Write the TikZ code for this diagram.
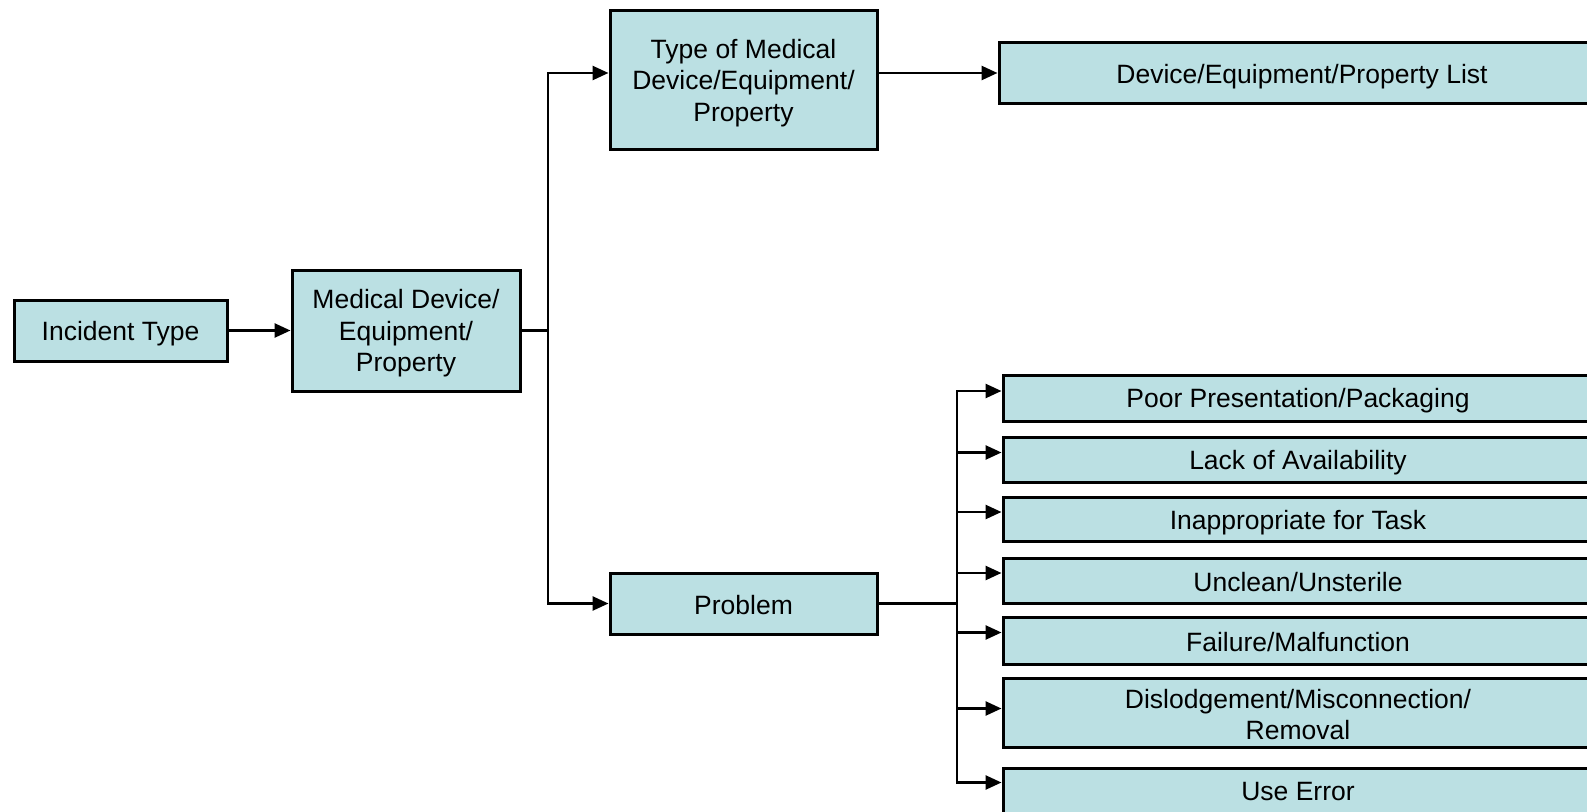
\documentclass[tikz,border=0pt]{standalone}
\usepackage{fontspec}
\setmainfont{Liberation Sans}
\usetikzlibrary{arrows.meta}
\definecolor{boxfill}{RGB}{187,224,227}
\tikzset{
  box/.style={draw=black, line width=3pt, fill=boxfill, inner sep=0pt},
  txt/.style={align=center, inner sep=0pt, font=\fontsize{26.5}{31.4}\selectfont},
  conn/.style={draw=black, line width=2.6pt},
  arr/.style={conn, -{Triangle[length=16pt,width=14pt]}}
}
\begin{document}
\begin{tikzpicture}[x=1pt,y=-1pt]
\useasboundingbox (0,0) rectangle (1587,811);
\clip (0,0) rectangle (1587,811);
\fill[white] (0,0) rectangle (1587,811);
\node[box, minimum width=213pt, minimum height=61pt,
  label={[txt,yshift=-3pt]center:{Incident Type}}] (inc) at (120.5,330.5) {};
\node[box, minimum width=228pt, minimum height=121pt,
  label={[txt,yshift=-3pt]center:{Medical Device/\\Equipment/\\Property}}] (md) at (406,330.5) {};
\node[box, minimum width=267pt, minimum height=139pt,
  label={[txt,yshift=-3.5pt]center:{Type of Medical\\Device/Equipment/\\Property}}] (type) at (743.5,79.5) {};
\node[box, minimum width=606pt, minimum height=60.5pt,
  label={[txt,yshift=-3.5pt]center:{Device/Equipment/Property List}}] (list) at (1302,72.75) {};
\node[box, minimum width=267pt, minimum height=61pt,
  label={[txt,yshift=-1.5pt]center:{Problem}}] (prob) at (743.5,603.5) {};
\node[box, minimum width=590pt, minimum height=46pt,
  label={[txt,yshift=-2.5pt]center:{Poor Presentation/Packaging}}] (b1) at (1298,398) {};
\node[box, minimum width=590pt, minimum height=45pt,
  label={[txt,yshift=-3.5pt]center:{Lack of Availability}}] (b2) at (1298,459.5) {};
\node[box, minimum width=590pt, minimum height=44pt,
  label={[txt,yshift=-3.5pt]center:{Inappropriate for Task}}] (b3) at (1298,519) {};
\node[box, minimum width=590pt, minimum height=45pt,
  label={[txt,yshift=-2pt]center:{Unclean/Unsterile}}] (b4) at (1298,580.5) {};
\node[box, minimum width=590pt, minimum height=47pt,
  label={[txt,yshift=-2pt]center:{Failure/Malfunction}}] (b5) at (1298,640.5) {};
\node[box, minimum width=590pt, minimum height=69pt,
  label={[txt,yshift=-2pt]center:{Dislodgement/Misconnection/\\Removal}}] (b6) at (1298,712.5) {};
\node[box, minimum width=590pt, minimum height=46pt,
  label={[txt,yshift=-1pt]center:{Use Error}}] (b7) at (1298,791) {};

\draw[arr] (inc.east) -- (md.west);
\coordinate (j1) at (548,330.5);
\coordinate (j1t) at (548,73);
\coordinate (j1b) at (548,603.5);
\draw[conn] (md.east) -- (j1);
\draw[conn, line cap=rect] (j1t) -- (j1b);
\draw[arr] (j1t) -- (type.west |- j1t);
\draw[arr] (j1b) -- (prob.west);
\draw[arr] (type.east |- j1t) -- (list.west |- j1t);

\coordinate (j2) at (957,603.5);
\draw[conn] (prob.east) -- (j2);
\coordinate (a1) at (957,391);
\coordinate (a2) at (957,452.5);
\coordinate (a3) at (957,512);
\coordinate (a4) at (957,573);
\coordinate (a5) at (957,632.5);
\coordinate (a6) at (957,708.5);
\coordinate (a7) at (957,782.5);
\draw[conn, line cap=rect] (a1) -- (a7);
\draw[arr] (a1) -- (b1.west |- a1);
\draw[arr] (a2) -- (b2.west |- a2);
\draw[arr] (a3) -- (b3.west |- a3);
\draw[arr] (a4) -- (b4.west |- a4);
\draw[arr] (a5) -- (b5.west |- a5);
\draw[arr] (a6) -- (b6.west |- a6);
\draw[arr] (a7) -- (b7.west |- a7);
\end{tikzpicture}
\end{document}
